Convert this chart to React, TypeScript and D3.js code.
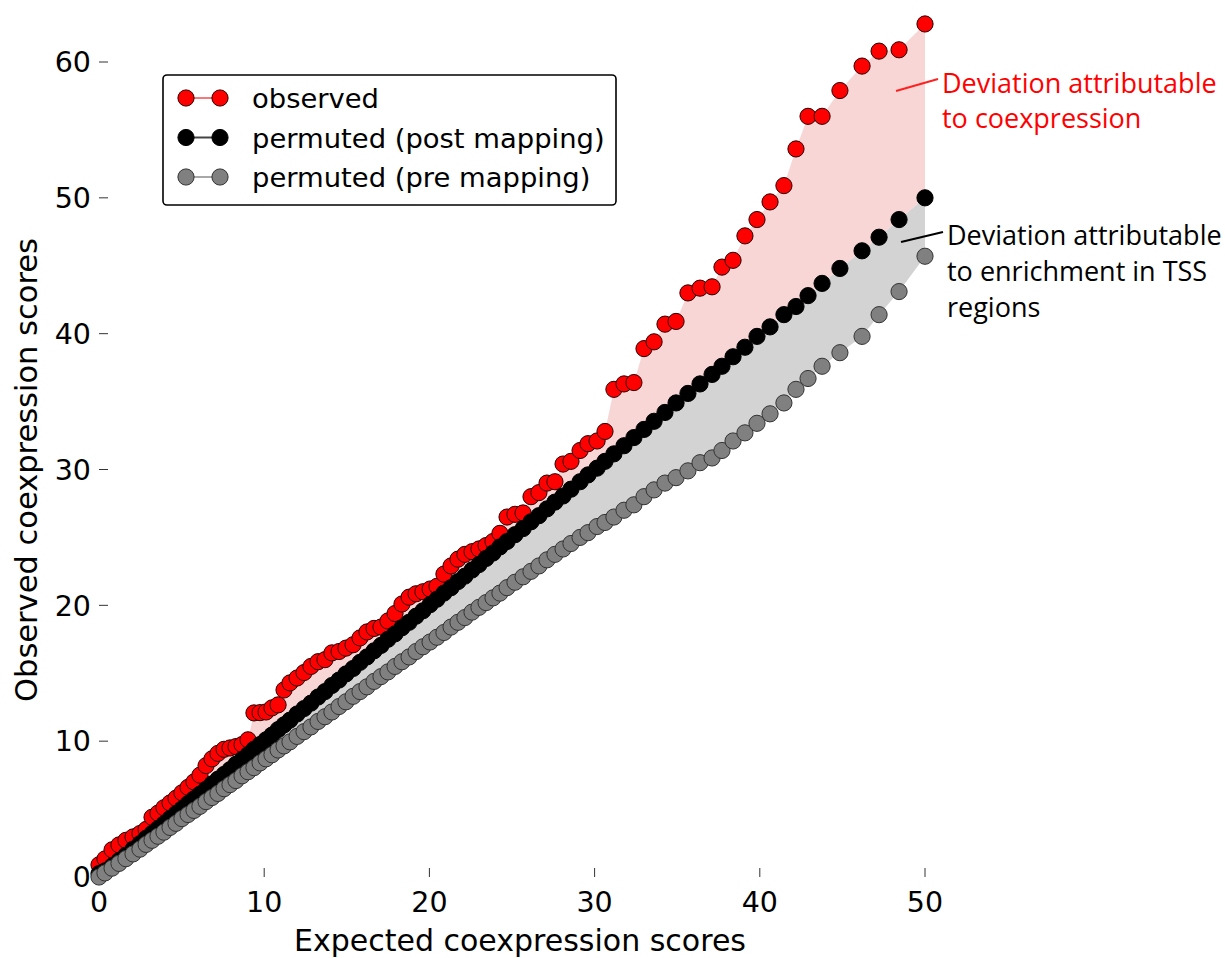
import React from "react";
import * as d3 from "d3";

const expected = [
  0.0, 0.36, 0.79, 1.21, 1.63, 2.06, 2.48, 2.85, 3.21, 3.57,
  3.93, 4.3, 4.66, 5.02, 5.39, 5.75, 6.11, 6.48, 6.84, 7.2,
  7.57, 7.93, 8.29, 8.66, 9.02, 9.38, 9.75, 10.11, 10.47, 10.84,
  11.2, 11.56, 11.99, 12.41, 12.83, 13.26, 13.68, 14.1, 14.53, 14.95,
  15.38, 15.8, 16.22, 16.65, 17.07, 17.49, 17.92, 18.34, 18.77, 19.19,
  19.61, 20.04, 20.46, 20.88, 21.31, 21.73, 22.15, 22.58, 23.0, 23.43,
  23.85, 24.27, 24.7, 25.18, 25.67, 26.15, 26.63, 27.12, 27.6, 28.09,
  28.57, 29.12, 29.6, 30.15, 30.63, 31.17, 31.78, 32.38, 32.99, 33.6,
  34.26, 34.93, 35.65, 36.38, 37.11, 37.71, 38.38, 39.1, 39.83, 40.62,
  41.46, 42.19, 42.92, 43.77, 44.85, 46.19, 47.22, 48.43, 50.0,
];

const observed = [
  0.9, 1.33, 2.0, 2.36, 2.7, 2.95, 3.2, 3.5, 4.4, 4.7,
  5.1, 5.45, 5.8, 6.2, 6.6, 7.0, 7.5, 8.2, 8.7, 9.1,
  9.4, 9.5, 9.6, 9.75, 10.1, 12.08, 12.1, 12.15, 12.45, 12.67,
  13.77, 14.29, 14.65, 15.05, 15.5, 15.85, 16.0, 16.5, 16.6, 16.85,
  17.1, 17.6, 18.04, 18.3, 18.4, 18.85, 19.4, 20.1, 20.6, 20.85,
  21.0, 21.2, 21.4, 22.3, 22.9, 23.4, 23.75, 23.95, 24.15, 24.4,
  24.7, 25.3, 26.5, 26.7, 26.8, 28.0, 28.3, 29.0, 29.1, 30.4,
  30.6, 31.4, 31.9, 32.1, 32.8, 35.9, 36.3, 36.4, 38.9, 39.4,
  40.7, 40.9, 43.0, 43.35, 43.45, 44.9, 45.4, 47.2, 48.4, 49.7,
  50.9, 53.6, 56.0, 56.0, 57.9, 59.7, 60.8, 60.9, 62.8,
];

const postMapping = [
  0.25, 0.45, 0.8, 1.2, 1.6, 2.05, 2.45, 2.85, 3.2, 3.55,
  3.9, 4.3, 4.65, 5.0, 5.4, 5.75, 6.1, 6.45, 6.85, 7.2,
  7.55, 7.9, 8.3, 8.65, 9.0, 9.4, 9.75, 10.1, 10.45, 10.85,
  11.2, 11.55, 12.0, 12.4, 12.8, 13.25, 13.65, 14.1, 14.5, 14.95,
  15.35, 15.8, 16.2, 16.65, 17.05, 17.5, 17.9, 18.35, 18.75, 19.2,
  19.6, 20.05, 20.45, 20.9, 21.3, 21.75, 22.15, 22.6, 23.0, 23.45,
  23.85, 24.3, 24.7, 25.2, 25.65, 26.15, 26.6, 27.1, 27.6, 28.05,
  28.55, 29.1, 29.6, 30.1, 30.6, 31.15, 31.75, 32.35, 32.95, 33.55,
  34.2, 34.9, 35.6, 36.3, 37.0, 37.6, 38.3, 39.0, 39.8, 40.5,
  41.4, 42.0, 42.8, 43.7, 44.8, 46.1, 47.1, 48.4, 50.0,
];

const preMapping = [
  0.0, 0.3, 0.65, 1.0, 1.35, 1.7, 2.05, 2.4, 2.7, 3.0,
  3.3, 3.65, 3.95, 4.3, 4.6, 4.9, 5.2, 5.55, 5.85, 6.15,
  6.5, 6.8, 7.1, 7.45, 7.75, 8.05, 8.4, 8.7, 9.0, 9.35,
  9.65, 9.95, 10.35, 10.7, 11.05, 11.45, 11.8, 12.15, 12.55, 12.9,
  13.3, 13.65, 14.0, 14.4, 14.75, 15.1, 15.5, 15.85, 16.2, 16.6,
  16.95, 17.3, 17.65, 18.0, 18.4, 18.75, 19.1, 19.5, 19.85, 20.2,
  20.55, 20.9, 21.3, 21.7, 22.1, 22.5, 22.9, 23.35, 23.75, 24.15,
  24.55, 25.0, 25.35, 25.8, 26.1, 26.5, 27.0, 27.4, 28.0, 28.5,
  29.0, 29.4, 29.9, 30.5, 30.85, 31.4, 32.1, 32.7, 33.4, 34.1,
  34.9, 35.9, 36.7, 37.6, 38.6, 39.8, 41.4, 43.1, 45.7,
];

const xTicks = [0, 10, 20, 30, 40, 50];
const yTicks = [0, 10, 20, 30, 40, 50, 60];

const legendLabels = ["observed", "permuted (post mapping)", "permuted (pre mapping)"];
const xLabel = "Expected coexpression scores";
const yLabel = "Observed coexpression scores";
const redNote = ["Deviation attributable", "to coexpression"];
const blackNote = ["Deviation attributable", "to enrichment in TSS", "regions"];

const FONT = "'DejaVu Sans', sans-serif";
const NOTE_FONT = "'Open Sans', sans-serif";

export default function App() {
  const x = d3.scaleLinear().domain([0, 50]).range([99, 925]);
  const y = d3.scaleLinear().domain([0, 60]).range([877, 62]);

  const idx = expected.map((_, i) => i);
  const pinkArea = d3
    .area<number>()
    .x((i) => x(expected[i]))
    .y0((i) => y(postMapping[i]))
    .y1((i) => y(observed[i]));
  const grayArea = d3
    .area<number>()
    .x((i) => x(expected[i]))
    .y0((i) => y(preMapping[i]))
    .y1((i) => y(postMapping[i]));

  const R = 8.1;

  const series = [
    { values: observed, fill: "#ff0000", stroke: "#2a0000", line: "#f47a7a" },
    { values: postMapping, fill: "#000000", stroke: "#000000", line: "#444444" },
    { values: preMapping, fill: "#808080", stroke: "#333333", line: "#a8a8a8" },
  ];

  return (
    <svg
      width={1225}
      height={958}
      style={{ position: "absolute", left: 0, top: 0, background: "#fff" }}
    >
      <rect x={0} y={0} width={1225} height={958} fill="#fff" />
      <path d={pinkArea(idx) || ""} fill="#f8d6d6" stroke="none" />
      <path d={grayArea(idx) || ""} fill="#d3d3d3" stroke="none" />

      {/* ticks */}
      {yTicks.map((t) => (
        <g key={"yt" + t}>
          <line x1={99} x2={108} y1={y(t)} y2={y(t)} stroke="#333" strokeWidth={1} />
          <text
            x={91}
            y={y(t)}
            dy="0.36em"
            textAnchor="end"
            fontFamily={FONT}
            fontSize={28.5}
            fill="#000"
          >
            {t}
          </text>
        </g>
      ))}
      {xTicks.map((t) => (
        <g key={"xt" + t}>
          <line x1={x(t)} x2={x(t)} y1={868} y2={877} stroke="#333" strokeWidth={1} />
          <text
            x={x(t)}
            y={912}
            textAnchor="middle"
            fontFamily={FONT}
            fontSize={28.5}
            fill="#000"
          >
            {t}
          </text>
        </g>
      ))}

      {/* points */}
      {series.map((s, si) => (
        <g key={"s" + si}>
          {s.values.map((v, i) => (
            <circle
              key={i}
              cx={x(expected[i])}
              cy={y(v)}
              r={R}
              fill={s.fill}
              stroke={s.stroke}
              strokeWidth={1}
            />
          ))}
        </g>
      ))}

      {/* axis labels */}
      <text
        x={520}
        y={951}
        textAnchor="middle"
        fontFamily={FONT}
        fontSize={30}
        fill="#000"
      >
        {xLabel}
      </text>
      <text
        transform="translate(37,470) rotate(-90)"
        textAnchor="middle"
        fontFamily={FONT}
        fontSize={30.5}
        fill="#000"
      >
        {yLabel}
      </text>

      {/* legend */}
      <rect
        x={163}
        y={75}
        width={453}
        height={130}
        rx={4}
        fill="#fff"
        stroke="#000"
        strokeWidth={1.6}
      />
      {series.map((s, i) => {
        const cy = 98 + i * 39.5;
        return (
          <g key={"lg" + i}>
            <line x1={186} x2={220} y1={cy} y2={cy} stroke={s.line} strokeWidth={2} />
            <circle cx={186} cy={cy} r={R} fill={s.fill} stroke={s.stroke} strokeWidth={1} />
            <circle cx={220} cy={cy} r={R} fill={s.fill} stroke={s.stroke} strokeWidth={1} />
            <text x={252} y={cy + 10} fontFamily={FONT} fontSize={27.4} fill="#000">
              {legendLabels[i]}
            </text>
          </g>
        );
      })}

      {/* annotations */}
      <line x1={896} y1={91} x2={938} y2={79} stroke="#ff2020" strokeWidth={2} />
      {redNote.map((t, i) => (
        <text
          key={"rn" + i}
          x={942}
          y={93 + i * 35}
          fontFamily={NOTE_FONT}
          fontSize={27}
          fill="#ff0000"
        >
          {t}
        </text>
      ))}
      <line x1={901} y1={242} x2={943} y2={232} stroke="#000" strokeWidth={2} />
      {blackNote.map((t, i) => (
        <text
          key={"bn" + i}
          x={947}
          y={245 + i * 36}
          fontFamily={NOTE_FONT}
          fontSize={27}
          fill="#000"
        >
          {t}
        </text>
      ))}
    </svg>
  );
}
